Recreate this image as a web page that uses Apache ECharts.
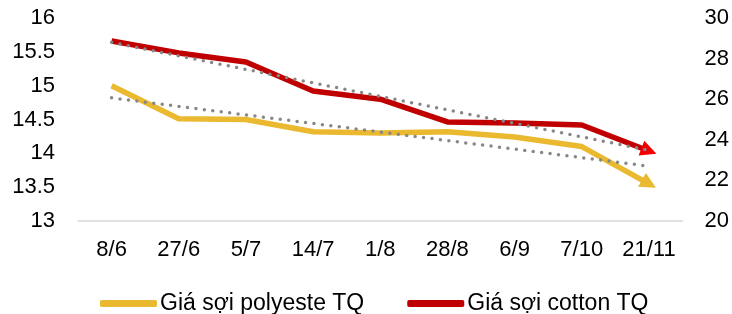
<!DOCTYPE html>
<html>
<head>
<meta charset="utf-8">
<script src="https://cdn.jsdelivr.net/npm/echarts@6/dist/echarts.min.js"></script>
<style>
  html, body { margin: 0; padding: 0; background: #fff; }
  #chart { width: 732px; height: 314px; }
</style>
</head>
<body>
<div id="chart"></div>
<script>
// dữ liệu
var categories = ['8/6', '27/6', '5/7', '14/7', '1/8', '28/8', '6/9', '7/10', '21/11'];
var polyester = [15.0, 14.51, 14.5, 14.32, 14.3, 14.32, 14.24, 14.1, 13.55];
var cotton = [28.87, 28.28, 27.83, 26.4, 26.0, 24.88, 24.83, 24.73, 23.45];
// đường xu hướng (điểm đầu, điểm cuối)
var polyTrend = [14.82, 13.81];
var cottonTrend = [28.8, 23.48];
var leftTicks = { min: 13, max: 16, interval: 0.5 };
var rightTicks = { min: 20, max: 30, interval: 2 };

var FONT = '"Liberation Sans", Arial, sans-serif';
var YELLOW = '#EBB92F';
var RED = '#C00000';

function withArrow(values, color, rotate) {
    return values.map(function (v, i) {
        if (i < values.length - 1) return v;
        return {
            value: v,
            symbol: 'triangle',
            symbolSize: [16, 16],
            symbolRotate: rotate,
            itemStyle: { color: color }
        };
    });
}

function trend(pair) {
    return [[0, pair[0]], [categories.length - 1, pair[1]]];
}

var myChart = echarts.init(document.getElementById('chart'));
var option = {
    animation: false,
    textStyle: { fontFamily: FONT },
    grid: { left: 78, right: 46, top: 18, bottom: 93 },
    legend: {
        top: 287,
        left: 95,
        itemWidth: 57,
        itemHeight: 7,
        itemGap: 43,
        icon: 'roundRect',
        textStyle: { fontSize: 23, color: '#000', fontFamily: FONT, padding: [0, 0, 0, -2] },
        data: ['Giá sợi polyeste TQ', 'Giá sợi cotton TQ']
    },
    xAxis: {
        type: 'category',
        data: categories,
        boundaryGap: true,
        axisLine: { show: true, lineStyle: { color: '#D9D9D9', width: 1.5 } },
        axisTick: { show: false },
        axisLabel: { color: '#000', fontSize: 22, margin: 18, interval: 0, hideOverlap: false, fontFamily: FONT }
    },
    yAxis: [{
        type: 'value',
        min: leftTicks.min,
        max: leftTicks.max,
        interval: leftTicks.interval,
        splitLine: { show: false },
        axisLine: { show: false },
        axisTick: { show: false },
        axisLabel: { color: '#000', fontSize: 22, margin: 23, fontFamily: FONT }
    }, {
        type: 'value',
        position: 'right',
        min: rightTicks.min,
        max: rightTicks.max,
        interval: rightTicks.interval,
        splitLine: { show: false },
        axisLine: { show: false },
        axisTick: { show: false },
        axisLabel: { color: '#000', fontSize: 22, margin: 22, fontFamily: FONT }
    }],
    series: [{
        name: 'Giá sợi polyeste TQ',
        type: 'line',
        yAxisIndex: 0,
        data: withArrow(polyester, YELLOW, -119.6),
        symbol: 'none',
        showSymbol: true,
        color: YELLOW,
        lineStyle: { width: 5.5, color: YELLOW },
        z: 3
    }, {
        name: 'Giá sợi cotton TQ',
        type: 'line',
        yAxisIndex: 1,
        data: withArrow(cotton, '#F20000', -111),
        symbol: 'none',
        showSymbol: true,
        color: RED,
        lineStyle: { width: 5.5, color: RED },
        z: 3
    }, {
        name: 'trendPoly',
        type: 'line',
        yAxisIndex: 0,
        data: trend(polyTrend),
        symbol: 'none',
        lineStyle: { width: 3.5, color: '#878787', type: [0, 8.5], cap: 'round' },
        z: 4
    }, {
        name: 'trendCotton',
        type: 'line',
        yAxisIndex: 1,
        data: trend(cottonTrend),
        symbol: 'none',
        lineStyle: { width: 3.5, color: '#878787', type: [0, 8.5], cap: 'round' },
        z: 4
    }]
};
myChart.setOption(option);
window.addEventListener('resize', function () {
    myChart.resize();
});
</script>
</body>
</html>
